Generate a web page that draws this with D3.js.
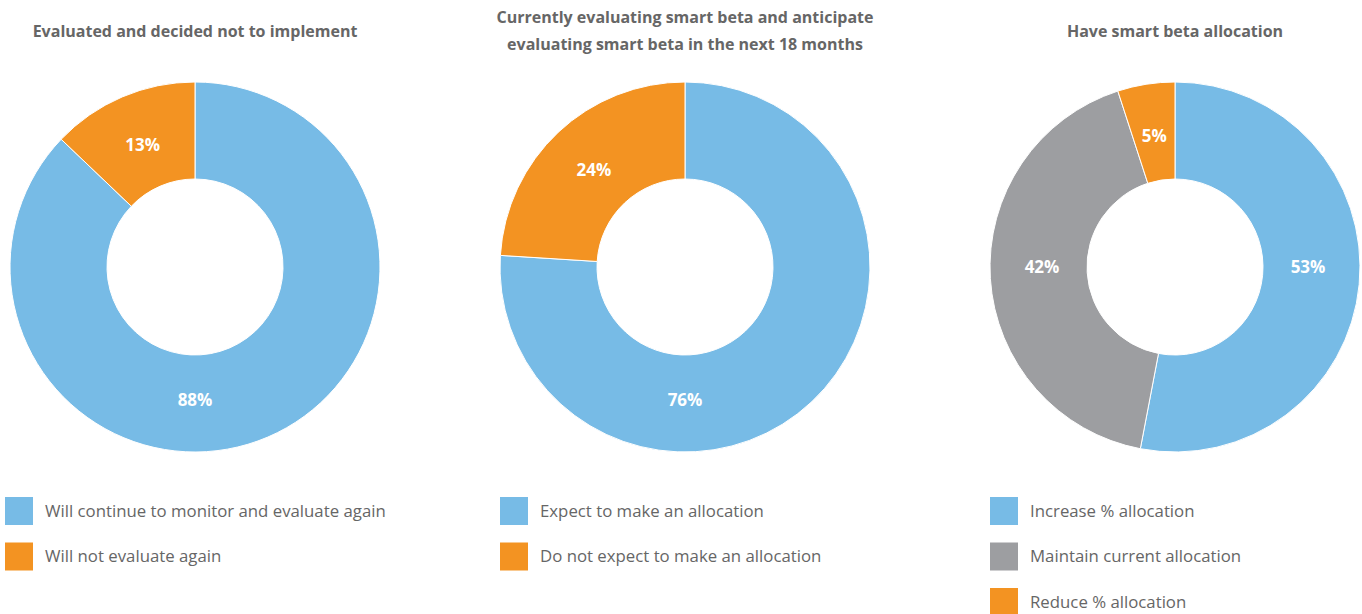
<!DOCTYPE html>
<html><head><meta charset="utf-8">
<script src="https://cdn.jsdelivr.net/npm/d3@7"></script>
<style>body{margin:0;background:#fff;}svg{display:block;font-family:"Open Sans",sans-serif;}</style>
</head><body>
<script>
const titles = [
  ["Evaluated and decided not to implement"],
  ["Currently evaluating smart beta and anticipate", "evaluating smart beta in the next 18 months"],
  ["Have smart beta allocation"]
];
const categories1 = ["Will continue to monitor and evaluate again", "Will not evaluate again"];
const values1 = [88, 13];
const categories2 = ["Expect to make an allocation", "Do not expect to make an allocation"];
const values2 = [76, 24];
const categories3 = ["Increase % allocation", "Maintain current allocation", "Reduce % allocation"];
const values3 = [53, 42, 5];
const colors1 = ["#77bbe6", "#f39322"];
const colors2 = ["#77bbe6", "#f39322"];
const colors3 = ["#77bbe6", "#9d9ea1", "#f39322"];

// layout: label angle overrides (degrees clockwise from 12 o'clock), null = slice centroid
const labelAngles = [[180, null], [180, null], [90, 270, null]];
const legendXs = [5, 500, 990];

const W = 1362, H = 614;
const svg = d3.select("body").append("svg").attr("width", W).attr("height", H);

const panels = [
  {cats: categories1, vals: values1, cols: colors1, title: titles[0]},
  {cats: categories2, vals: values2, cols: colors2, title: titles[1]},
  {cats: categories3, vals: values3, cols: colors3, title: titles[2]}
];
const cx = d3.scalePoint().domain([0,1,2]).range([195, 1175]);
const outerR = 185, innerR = 88, cy = 267, labelR = 133;
const pie = d3.pie().sort(null).value(d => d);
const arc = d3.arc().innerRadius(innerR).outerRadius(outerR);

panels.forEach((p, i) => {
  const x = cx(i);
  const g = svg.append("g");
  const t = g.append("text").attr("text-anchor","middle").attr("fill","#666")
    .attr("font-size", 16).attr("font-weight", 700);
  const lines = p.title;
  const startY = lines.length === 1 ? 37 : 23;
  lines.forEach((l, j) => t.append("tspan").attr("x", x).attr("y", startY + j*27).text(l));
  const dg = g.append("g").attr("transform", `translate(${x},${cy})`);
  const arcs = pie(p.vals);
  dg.selectAll("path").data(arcs).join("path")
    .attr("d", arc).attr("fill", (d,k) => p.cols[k])
    .attr("stroke", "#fff").attr("stroke-width", 1);
  dg.selectAll("text").data(arcs).join("text")
    .attr("transform", (d,k) => {
      const ov = labelAngles[i][k];
      const a = ov == null ? (d.startAngle + d.endAngle)/2 : ov*Math.PI/180;
      return `translate(${labelR*Math.sin(a)},${-labelR*Math.cos(a)})`;
    })
    .attr("text-anchor","middle").attr("dy","0.35em")
    .attr("fill","#fff").attr("font-size",17).attr("font-weight",700)
    .text(d => d.data + "%");
  const lx = legendXs[i];
  const lg = g.append("g");
  p.cats.forEach((c, k) => {
    const y = 497 + k*45.5;
    lg.append("rect").attr("x", lx).attr("y", y).attr("width", 28).attr("height", 28).attr("fill", p.cols[k]);
    lg.append("text").attr("x", lx + 40).attr("y", y + 14).attr("dy","0.35em")
      .attr("fill","#666").attr("font-size",16.8).text(c);
  });
});
</script>
</body></html>
